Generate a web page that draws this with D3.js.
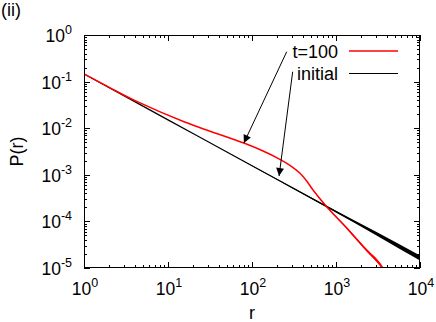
<!DOCTYPE html>
<html lang="en">
  <head>
    <title>P(r)</title>
    <meta charset="utf-8">
    <style>
      body { margin: 0; background: #fff; }
      text { font-family: "Liberation Sans", Arial, sans-serif; fill: #000; }
    </style>
  </head>
  <body>
<svg width="436" height="322"></svg>
<script src="https://d3js.org/d3.v7.min.js"></script>
<script>

// axis ranges / ticks
var xDecades = [0, 1, 2, 3, 4];
var yDecades = [-5, -4, -3, -2, -1, 0];

// initial distribution (straight power law), with the noise spread at large r (log10 units)
var initR = [1, 10, 100, 300, 1000, 3000, 10000];
var initP = [0.146, 0.0151, 0.00156, 0.00053, 0.000162, 0.000055, 0.0000164];
var initSpread = [0, 0, 0.004, 0.01, 0.02, 0.035, 0.055];

// t=100 distribution
var redR = [1, 2, 3.94, 15.5, 80, 131.5, 215, 283, 373, 448, 532, 775, 1340, 2200, 3630, 4200];
var redP = [0.146, 0.075, 0.04, 0.0138, 0.00481, 0.00332, 0.00215, 0.0016, 0.00108, 0.000736, 0.000472, 0.000207, 0.0000721, 0.0000265, 0.00000966, 0.000006];
var redSpread = [0, 0, 0, 0, 0, 0, 0, 0, 0, 0, 0.005, 0.01, 0.02, 0.028, 0.035, 0.035];

// legend + arrows (arrow ends in data units: [r, P])
var legendLabels = ["t=100", "initial"];
var legendColors = ["#ff0000", "#000000"];
var arrows = [
  {from: [259, 0.438], to: [80, 0.0048]},
  {from: [305, 0.163], to: [210, 0.00094]}
];

var svg = d3.select("svg"),
    pLeft = 84, pRight = 420, pTop = 35, pBottom = 268;

var x = d3.scaleLog().domain([1, 1e4]).range([pLeft, pRight]);
var y = d3.scaleLog().domain([1e-5, 1]).range([pBottom, pTop]);

svg.append("defs").append("clipPath").attr("id", "clip")
  .append("rect").attr("x", pLeft).attr("y", pTop).attr("width", pRight - pLeft).attr("height", pBottom - pTop);

svg.append("defs").append("marker")
    .attr("id", "head").attr("viewBox", "0 0 10 10")
    .attr("refX", 10).attr("refY", 5)
    .attr("markerWidth", 10).attr("markerHeight", 8)
    .attr("markerUnits", "userSpaceOnUse")
    .attr("orient", "auto")
  .append("path").attr("d", "M0,0L10,5L0,10Z").attr("fill", "#000");

// ticks on all four sides (pointing inwards)
var ticks = svg.append("g").attr("stroke", "#000").attr("stroke-width", 1);
function minorsOf(decades) {
  var out = [];
  decades.slice(0, -1).forEach(function(k) {
    for (var m = 2; m <= 9; m++) out.push(m * Math.pow(10, k));
  });
  return out;
}
xDecades.forEach(function(k) {
  var px = Math.round(x(Math.pow(10, k))) + 0.5;
  ticks.append("line").attr("x1", px).attr("x2", px).attr("y1", pBottom).attr("y2", pBottom - 6);
  ticks.append("line").attr("x1", px).attr("x2", px).attr("y1", pTop).attr("y2", pTop + 6);
});
minorsOf(xDecades).forEach(function(v) {
  var px = Math.round(x(v)) + 0.5;
  ticks.append("line").attr("x1", px).attr("x2", px).attr("y1", pBottom).attr("y2", pBottom - 3);
  ticks.append("line").attr("x1", px).attr("x2", px).attr("y1", pTop).attr("y2", pTop + 3);
});
yDecades.forEach(function(k) {
  var py = Math.round(y(Math.pow(10, k))) + 0.5;
  ticks.append("line").attr("x1", pLeft).attr("x2", pLeft + 6).attr("y1", py).attr("y2", py);
  ticks.append("line").attr("x1", pRight).attr("x2", pRight - 6).attr("y1", py).attr("y2", py);
});
minorsOf(yDecades).forEach(function(v) {
  var py = Math.round(y(v)) + 0.5;
  ticks.append("line").attr("x1", pLeft).attr("x2", pLeft + 3).attr("y1", py).attr("y2", py);
  ticks.append("line").attr("x1", pRight).attr("x2", pRight - 3).attr("y1", py).attr("y2", py);
});

// tick labels 10^k
function powLabel(sel, k) {
  sel.append("tspan").text("10");
  sel.append("tspan").attr("dy", -8).attr("font-size", 12.5).text(k);
}
xDecades.forEach(function(k) {
  svg.append("text").attr("x", x(Math.pow(10, k)) + 1).attr("y", 295)
    .attr("text-anchor", "middle").attr("font-size", 17.5)
    .call(powLabel, k);
});
yDecades.forEach(function(k) {
  svg.append("text").attr("x", 72).attr("y", y(Math.pow(10, k)) + 7)
    .attr("text-anchor", "end").attr("font-size", 17.5)
    .call(powLabel, k);
});

// axis titles
svg.append("text").attr("x", (pLeft + pRight) / 2).attr("y", 319)
  .attr("text-anchor", "middle").attr("font-size", 18).text("r");
svg.append("text").attr("transform", "translate(23," + ((pTop + pBottom) / 2) + ") rotate(-90)")
  .attr("text-anchor", "middle").attr("font-size", 18).text("P(r)");
svg.append("text").attr("x", 1).attr("y", 16).attr("font-size", 18).text("(ii)");

// curves
var plot = svg.append("g").attr("clip-path", "url(#clip)");

function series(rs, ps, spread) {
  return rs.map(function(r, i) { return {r: r, p: ps[i], s: spread[i]}; });
}
var curve = d3.curveCatmullRom.alpha(0.5);
var line = d3.line().x(function(d) { return x(d.r); }).y(function(d) { return y(d.p); })
  .curve(curve);
var band = d3.area().x(function(d) { return x(d.r); })
  .y0(function(d) { return y(d.p * Math.pow(10, -d.s)); })
  .y1(function(d) { return y(d.p * Math.pow(10, d.s)); })
  .curve(d3.curveMonotoneX);

var initData = series(initR, initP, initSpread);
var redData = series(redR, redP, redSpread);

plot.append("path").datum(initData).attr("d", band).attr("fill", "#000");
plot.append("path").datum(initData).attr("d", line)
  .attr("fill", "none").attr("stroke", "#000").attr("stroke-width", 1.2);
plot.append("path").datum(redData).attr("d", band).attr("fill", "#ff0000");
plot.append("path").datum(redData).attr("d", line)
  .attr("fill", "none").attr("stroke", "#ff0000").attr("stroke-width", 1.5);

// frame
svg.append("rect").attr("x", pLeft + 0.5).attr("y", pTop + 0.5)
  .attr("width", pRight - pLeft - 1).attr("height", pBottom - pTop - 1)
  .attr("fill", "none").attr("stroke", "#000").attr("stroke-width", 1);

// legend
legendLabels.forEach(function(label, i) {
  var ly = 51 + i * 22.5;
  svg.append("text").attr("x", 338).attr("y", ly + 6.5)
    .attr("text-anchor", "end").attr("font-size", 18).text(label);
  svg.append("line").attr("x1", 349).attr("x2", 398).attr("y1", ly).attr("y2", ly)
    .attr("stroke", legendColors[i]).attr("stroke-width", i === 0 ? 1.5 : 1.2);
});

// arrows
arrows.forEach(function(a) {
  svg.append("line")
    .attr("x1", x(a.from[0])).attr("y1", y(a.from[1]))
    .attr("x2", x(a.to[0])).attr("y2", y(a.to[1]))
    .attr("stroke", "#000").attr("stroke-width", 1)
    .attr("marker-end", "url(#head)");
});

</script>
  </body>
</html>
